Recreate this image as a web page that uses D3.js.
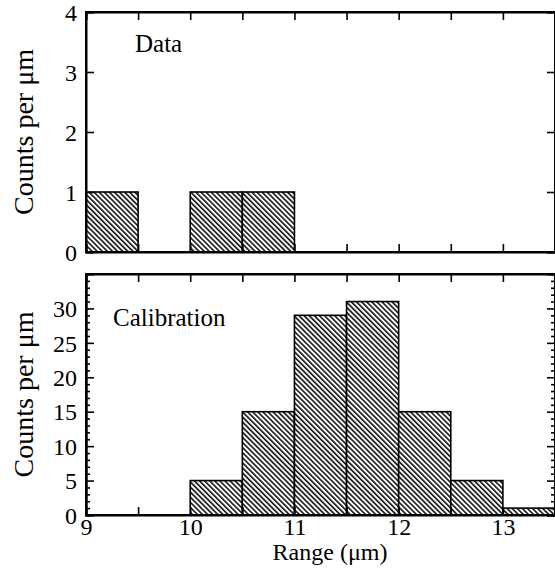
<!DOCTYPE html>
<html><head><meta charset="utf-8">
<script src="https://cdn.jsdelivr.net/npm/d3@7"></script>
<style>body{margin:0;background:#fff}svg{display:block}text{font-family:"Liberation Serif","DejaVu Serif",serif;fill:#000}</style>
</head><body><svg id="c" width="555" height="571"></svg>
<script>
const binEdges = [9, 9.5, 10, 10.5, 11, 11.5, 12, 12.5, 13, 13.5];
const dataCounts = [1, 0, 1, 1, 0, 0, 0, 0, 0];
const calibCounts = [0, 0, 5, 15, 29, 31, 15, 5, 1];
const xTicks = [9, 10, 11, 12, 13];
const dataYTicks = [0, 1, 2, 3, 4];
const calibYTicks = [0, 5, 10, 15, 20, 25, 30];

const FONT = '"Liberation Serif","DejaVu Serif",serif';
const svg = d3.select("#c");
const defs = svg.append("defs");
const pat = defs.append("pattern").attr("id","hatch").attr("patternUnits","userSpaceOnUse")
  .attr("width",3.6).attr("height",3.6).attr("patternTransform","rotate(45)");
pat.append("rect").attr("width",3.6).attr("height",3.6).attr("fill","#fff");
pat.append("line").attr("x1",0).attr("y1",1).attr("x2",3.6).attr("y2",1).attr("stroke","#000").attr("stroke-width",1.5);

const x = d3.scaleLinear().domain([9, 13.5]).range([86, 555]);
const halfTicks = d3.range(9, 13.51, 0.5);

function panel(top, bottom, yMax, counts, yTicks, minor, label, lx, ly) {
  const y = d3.scaleLinear().domain([0, yMax]).range([bottom, top]);
  const g = svg.append("g");
  const bins = counts.map((c,i)=>({x0:binEdges[i], x1:binEdges[i+1], c})).filter(d=>d.c>0);
  g.selectAll("rect.bar").data(bins).join("rect").attr("class","bar")
    .attr("x",d=>x(d.x0)).attr("width",d=>x(d.x1)-x(d.x0))
    .attr("y",d=>y(d.c)).attr("height",d=>y(0)-y(d.c))
    .attr("fill","url(#hatch)").attr("stroke","#000").attr("stroke-width",1.6);
  const left = g.append("g").attr("transform",`translate(${x(9)},0)`)
    .call(d3.axisLeft(y).tickValues(yTicks).tickSize(-8).tickFormat(d3.format("d")));
  g.append("g").attr("transform",`translate(${x(13.5)},0)`)
    .call(d3.axisRight(y).tickValues(yTicks).tickSize(-8).tickFormat(""));
  if (minor) {
    const mt = d3.range(0, yMax+0.01, 1).filter(v=>v%5!==0);
    g.append("g").attr("transform",`translate(${x(9)},0)`).call(d3.axisLeft(y).tickValues(mt).tickSize(-4).tickFormat(""));
    g.append("g").attr("transform",`translate(${x(13.5)},0)`).call(d3.axisRight(y).tickValues(mt).tickSize(-4).tickFormat(""));
  }
  g.append("g").attr("transform",`translate(0,${top})`)
    .call(d3.axisTop(x).tickValues(halfTicks).tickSize(-8).tickFormat(""));
  const botAx = g.append("g").attr("transform",`translate(0,${bottom})`)
    .call(d3.axisBottom(x).tickValues(halfTicks).tickSize(-8)
      .tickFormat(d => xTicks.includes(d) && minor ? d3.format("d")(d) : ""));
  g.selectAll("g").attr("font-family", FONT);
  g.selectAll(".domain").attr("stroke","#000").attr("stroke-width",2);
  g.selectAll(".tick line").attr("stroke","#000").attr("stroke-width",1.6);
  g.selectAll(".tick text").style("font-size","24px").style("font-family",FONT);
  left.selectAll(".tick text").attr("x",-9).attr("dy","0.34em");
  botAx.selectAll(".tick text").attr("y",3).attr("dy","0.71em");
  g.append("rect").attr("x",x(9)).attr("y",top).attr("width",x(13.5)-x(9)).attr("height",bottom-top)
    .attr("fill","none").attr("stroke","#000").attr("stroke-width",2);
  g.append("text").attr("x",lx).attr("y",ly).style("font-size","25px").text(label);
  g.append("text").attr("transform",`translate(33,${(top+bottom)/2}) rotate(-90)`)
    .attr("text-anchor","middle").style("font-size","28px").text("Counts per μm");
}

panel(12, 252, 4, dataCounts, dataYTicks, false, "Data", 135, 52);
panel(274, 515, 35, calibCounts, calibYTicks, true, "Calibration", 113, 326);

svg.append("text").attr("x",330).attr("y",560).attr("text-anchor","middle").style("font-size","24px").text("Range (μm)");
</script></body></html>
